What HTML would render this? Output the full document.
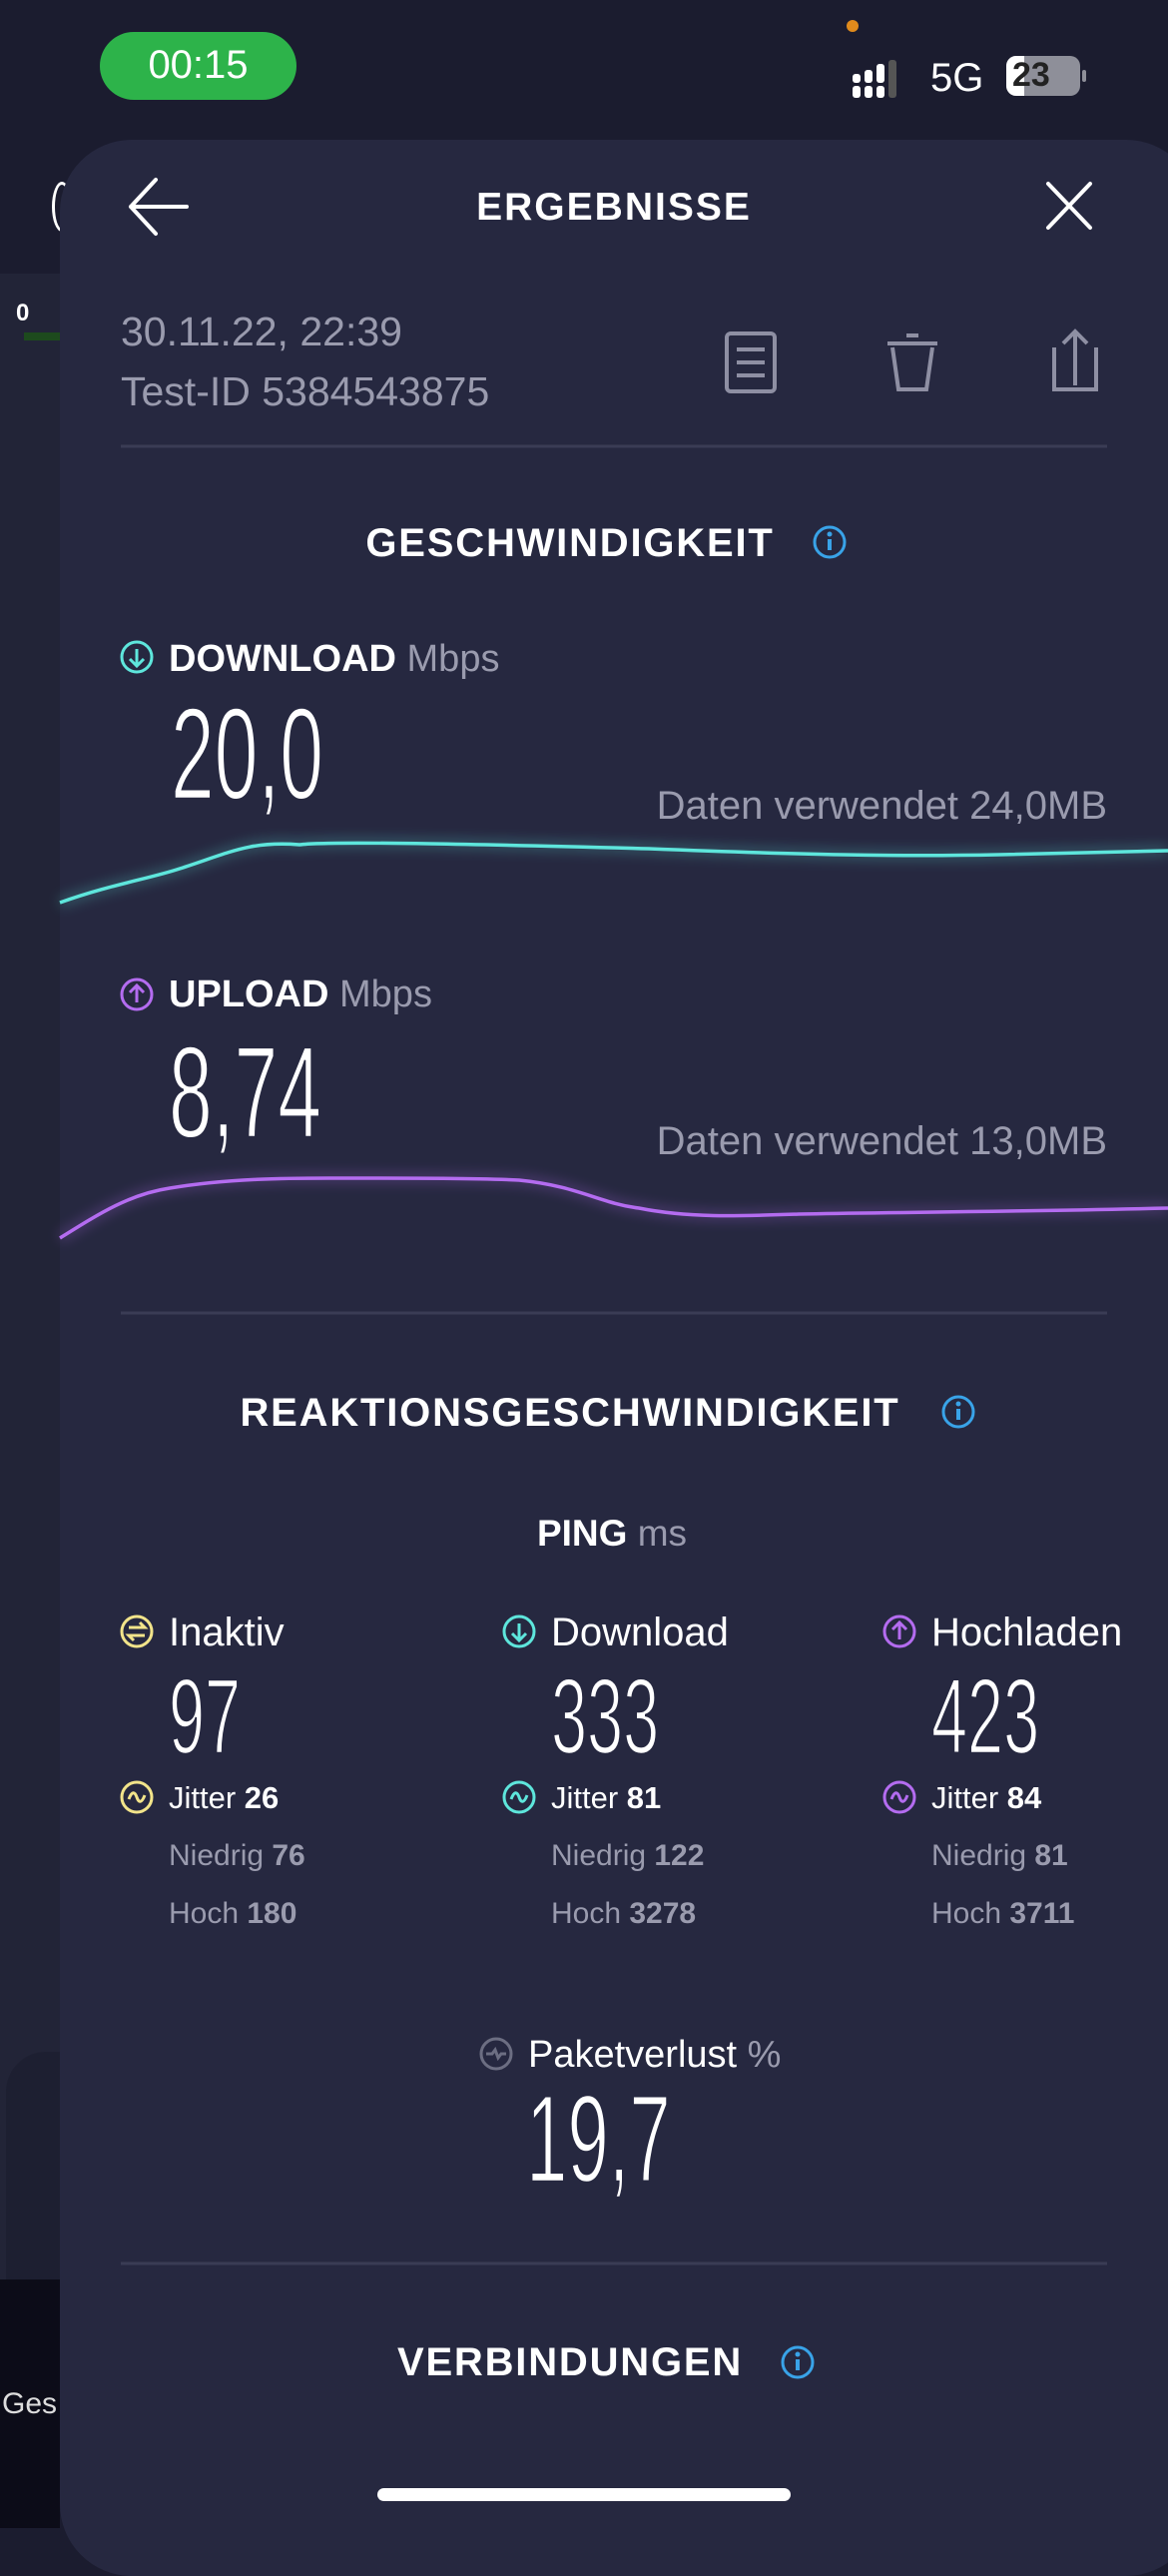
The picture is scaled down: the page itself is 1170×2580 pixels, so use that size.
<!DOCTYPE html>
<html><head><meta charset="utf-8"><style>
*{margin:0;padding:0;box-sizing:border-box}
body{width:1170px;height:2532px;background:#1b1c2f;position:relative;overflow:hidden;font-family:"Liberation Sans",sans-serif;color:#fff}
.a{position:absolute;line-height:1;white-space:nowrap}
.big{display:inline-block;transform:scaleX(.6);transform-origin:left center;font-weight:normal;-webkit-text-stroke:2.5px #262840;paint-order:normal}
.g{color:#9a9bae}
.b{font-weight:bold}
.ctr{transform:translateX(-50%)}
.h{font-size:40px;letter-spacing:1.8px;font-weight:bold}
</style></head><body>
<div class="a" style="left:0;top:274px;width:60px;height:2010px;background:#222437"></div>
<div class="a" style="left:6px;top:2055px;width:60px;height:230px;background:#1d1f31;border-radius:40px 0 0 0"></div>
<div class="a" style="left:0;top:2283px;width:60px;height:249px;background:#0c0c18"></div>
<div class="a" style="left:2px;top:2393px;font-size:30px;color:#ddd">Ges</div>
<div class="a b" style="left:16px;top:302px;font-size:24px;color:#fff">0</div>
<div class="a" style="left:24px;top:333px;width:36px;height:8px;background:#1d4a1d"></div>
<div class="a" style="left:52px;top:182px;width:20px;height:50px;border:3px solid #fff;border-radius:50%"></div>

<div class="a" style="left:100px;top:32px;width:197px;height:68px;background:#2db34a;border-radius:34px"></div>
<div class="a" style="left:100px;top:45px;width:197px;text-align:center;font-size:40px">00:15</div>
<div class="a" style="left:848px;top:20px;width:12px;height:12px;border-radius:50%;background:#e08a1c"></div>
<svg class="a" style="left:852px;top:60px" width="60" height="40">
<g fill="#fff"><rect x="2" y="26" width="8" height="12" rx="3"/><rect x="14" y="26" width="8" height="12" rx="3"/><rect x="26" y="26" width="8" height="12" rx="3"/><rect x="2" y="14" width="8" height="9" rx="3"/><rect x="14" y="10" width="8" height="13" rx="3"/><rect x="26" y="4" width="8" height="19" rx="3"/></g>
<rect x="38" y="0" width="8" height="38" rx="3" fill="#555"/></svg>
<div class="a" style="left:932px;top:58px;font-size:40px">5G</div>
<div class="a" style="left:1008px;top:56px;width:74px;height:40px;border-radius:10px;background:#8e8f99;overflow:hidden"><div style="width:18px;height:40px;background:#fff"></div></div>
<div class="a b" style="left:1014px;top:58px;font-size:34px;color:#222">23</div>
<div class="a" style="left:1084px;top:70px;width:4px;height:12px;background:#8e8f99;border-radius:2px"></div>

<div class="a" style="left:60px;top:140px;width:1140px;height:2440px;background:#262840;border-radius:72px"></div>

<svg class="a" style="left:0;top:0" width="1170" height="2532">
<g stroke="#fff" stroke-width="4" fill="none" stroke-linecap="round">
<path d="M131 207H187M131 207L156 180M131 207L156 234"/>
<path d="M1050 184L1092 228M1092 184L1050 228"/>
</g>
<g stroke="#8e8fa3" stroke-width="4" fill="none">
<rect x="728" y="334" width="48" height="58" rx="4"/>
<path d="M738 350h28M738 363h28M738 376h28"/>
<path d="M889 344h50M908 336h12M894 348l6 42h28l6-42"/>
<path d="M1056 348v42h42v-42M1077 386v-54M1065 344l12-12 12 12"/>
</g>
<line x1="121" y1="447" x2="1109" y2="447" stroke="#3a3c55" stroke-width="3"/>
<line x1="121" y1="1315" x2="1109" y2="1315" stroke="#3a3c55" stroke-width="3"/>
<line x1="121" y1="2267" x2="1109" y2="2267" stroke="#3a3c55" stroke-width="3"/>
<g fill="none" stroke="#39a3e8" stroke-width="3">
<circle cx="831" cy="543" r="15"/><circle cx="960" cy="1414" r="15"/><circle cx="799" cy="2366" r="15"/></g>
<g fill="#39a3e8"><rect x="829" y="540" width="4" height="11"/><circle cx="831" cy="535" r="2.5"/><rect x="958" y="1411" width="4" height="11"/><circle cx="960" cy="1406" r="2.5"/><rect x="797" y="2363" width="4" height="11"/><circle cx="799" cy="2358" r="2.5"/></g>
<defs><filter id="gl" x="-10%" y="-100%" width="120%" height="300%"><feGaussianBlur stdDeviation="6"/></filter></defs>
<path d="M60 904 C110 886 150 880 180 870 C230 854 250 842 300 846 C330 842 500 846 650 850 C800 856 900 858 1000 856 C1080 854 1130 853 1170 852" stroke="#5ee6dc" stroke-width="10" fill="none" opacity=".25" filter="url(#gl)"/>
<path d="M60 904 C110 886 150 880 180 870 C230 854 250 842 300 846 C330 842 500 846 650 850 C800 856 900 858 1000 856 C1080 854 1130 853 1170 852" stroke="#5ee6dc" stroke-width="3.5" fill="none"/>
<path d="M60 1240 C100 1215 130 1196 170 1190 C230 1180 290 1180 330 1180 C420 1180 480 1180 520 1182 C580 1188 600 1205 640 1210 C690 1220 740 1218 800 1216 C900 1214 1000 1214 1170 1210" stroke="#b46cf0" stroke-width="10" fill="none" opacity=".25" filter="url(#gl)"/>
<path d="M60 1240 C100 1215 130 1196 170 1190 C230 1180 290 1180 330 1180 C420 1180 480 1180 520 1182 C580 1188 600 1205 640 1210 C690 1220 740 1218 800 1216 C900 1214 1000 1214 1170 1210" stroke="#b46cf0" stroke-width="3.5" fill="none"/>
<g fill="none" stroke-width="3">
<circle cx="137" cy="658" r="15" stroke="#5ee6dc"/><path d="M137 650v16M130 660l7 7 7-7" stroke="#5ee6dc"/>
<circle cx="137" cy="996" r="15" stroke="#b46cf0"/><path d="M137 1004v-16M130 994l7-7 7 7" stroke="#b46cf0"/>
<circle cx="137" cy="1634" r="15" stroke="#f2e48a"/><path d="M129 1630h16l-5-5M145 1638h-16l5 5" stroke="#f2e48a"/>
<circle cx="520" cy="1634" r="15" stroke="#5ee6dc"/><path d="M520 1626v16M513 1636l7 7 7-7" stroke="#5ee6dc"/>
<circle cx="901" cy="1634" r="15" stroke="#b46cf0"/><path d="M901 1642v-16M894 1632l7-7 7 7" stroke="#b46cf0"/>
<circle cx="137" cy="1800" r="15" stroke="#f2e48a"/><path d="M129 1802c3-8 6-8 8-2s5 6 8-2" stroke="#f2e48a"/>
<circle cx="520" cy="1800" r="15" stroke="#5ee6dc"/><path d="M512 1802c3-8 6-8 8-2s5 6 8-2" stroke="#5ee6dc"/>
<circle cx="901" cy="1800" r="15" stroke="#b46cf0"/><path d="M893 1802c3-8 6-8 8-2s5 6 8-2" stroke="#b46cf0"/>
<circle cx="497" cy="2057" r="15" stroke="#6c6e82"/><path d="M487 2057h6l3-4 3 8 3-4h5" stroke="#6c6e82"/>
</g>
</svg>

<div class="a ctr b" style="left:615px;top:188px;font-size:39px;letter-spacing:2px">ERGEBNISSE</div>
<div class="a g" style="left:121px;top:312px;font-size:41px">30.11.22, 22:39</div>
<div class="a g" style="left:121px;top:372px;font-size:41px">Test-ID 5384543875</div>

<div class="a ctr h" style="left:571px;top:524px">GESCHWINDIGKEIT</div>

<div class="a" style="left:169px;top:641px;font-size:38px"><span class="b">DOWNLOAD</span> <span class="g">Mbps</span></div>
<div class="a" style="left:171px;top:689px;font-size:131px"><span class="big">20,0</span></div>
<div class="a g" style="right:61px;top:787px;font-size:40px">Daten verwendet 24,0MB</div>

<div class="a" style="left:169px;top:977px;font-size:38px"><span class="b">UPLOAD</span> <span class="g">Mbps</span></div>
<div class="a" style="left:169px;top:1028px;font-size:131px"><span class="big">8,74</span></div>
<div class="a g" style="right:61px;top:1123px;font-size:40px">Daten verwendet 13,0MB</div>

<div class="a ctr h" style="left:571px;top:1395px">REAKTIONSGESCHWINDIGKEIT</div>
<div class="a ctr" style="left:613px;top:1517px;font-size:37px"><span class="b">PING</span> <span class="g">ms</span></div>

<div class="a" style="left:169px;top:1615px;font-size:40px">Inaktiv</div>
<div class="a" style="left:552px;top:1615px;font-size:40px">Download</div>
<div class="a" style="left:933px;top:1615px;font-size:40px">Hochladen</div>
<div class="a" style="left:169px;top:1665px;font-size:108px"><span class="big">97</span></div>
<div class="a" style="left:552px;top:1665px;font-size:108px"><span class="big">333</span></div>
<div class="a" style="left:933px;top:1665px;font-size:108px"><span class="big">423</span></div>
<div class="a" style="left:169px;top:1785px;font-size:31px">Jitter <b>26</b></div>
<div class="a" style="left:552px;top:1785px;font-size:31px">Jitter <b>81</b></div>
<div class="a" style="left:933px;top:1785px;font-size:31px">Jitter <b>84</b></div>
<div class="a g" style="left:169px;top:1844px;font-size:30px">Niedrig <b>76</b></div>
<div class="a g" style="left:552px;top:1844px;font-size:30px">Niedrig <b>122</b></div>
<div class="a g" style="left:933px;top:1844px;font-size:30px">Niedrig <b>81</b></div>
<div class="a g" style="left:169px;top:1902px;font-size:30px">Hoch <b>180</b></div>
<div class="a g" style="left:552px;top:1902px;font-size:30px">Hoch <b>3278</b></div>
<div class="a g" style="left:933px;top:1902px;font-size:30px">Hoch <b>3711</b></div>

<div class="a" style="left:529px;top:2039px;font-size:38px">Paketverlust <span class="g">%</span></div>
<div class="a" style="left:527px;top:2081px;font-size:124px"><span class="big">19,7</span></div>

<div class="a ctr h" style="left:571px;top:2346px">VERBINDUNGEN</div>
<div class="a" style="left:378px;top:2492px;width:414px;height:13px;border-radius:7px;background:#fff"></div>
</body></html>
